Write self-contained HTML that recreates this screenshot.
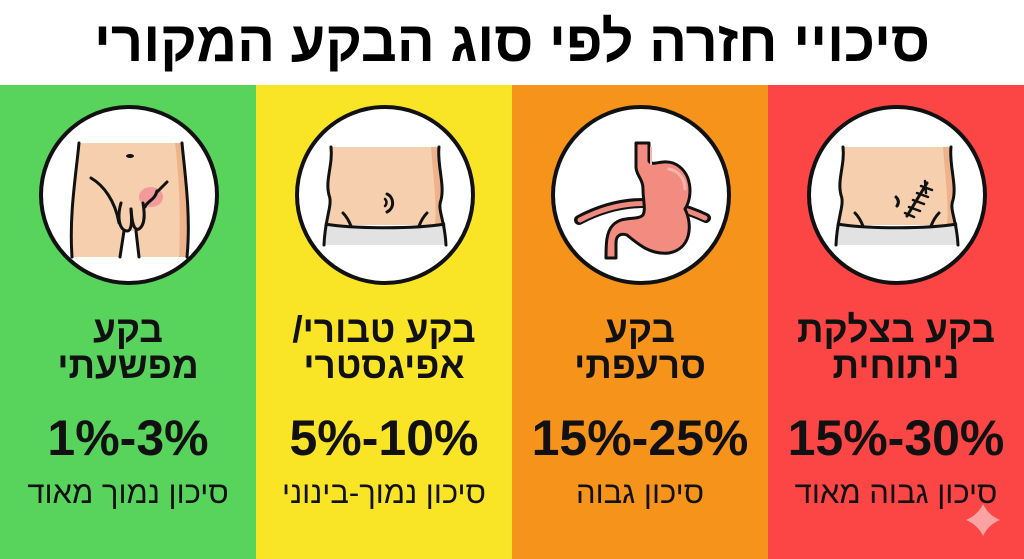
<!DOCTYPE html>
<html><head><meta charset="utf-8">
<style>
html,body{margin:0;padding:0;}
body{width:1024px;height:559px;position:relative;overflow:hidden;background:#fff;font-family:"Liberation Sans","DejaVu Sans",sans-serif;}
.title{position:absolute;left:0;top:14px;width:1024px;text-align:center;font-size:57px;line-height:57px;font-weight:bold;color:#000;direction:rtl;transform:scaleX(0.985);transform-origin:514px 0;}
.col{position:absolute;top:85px;width:256px;height:474px;}
.h{position:absolute;left:0;width:256px;text-align:center;font-weight:bold;font-size:37px;line-height:36px;color:#111;direction:rtl;}
.p{position:absolute;left:0;width:256px;text-align:center;font-weight:bold;font-size:50px;line-height:50px;color:#111;direction:ltr;}
.s{position:absolute;left:0;width:256px;text-align:center;font-size:31px;line-height:31px;color:#111;direction:rtl;}
svg.ic{position:absolute;top:20px;left:39px;}
</style></head><body>
<div class="title">סיכויי חזרה לפי סוג הבקע המקורי</div>

<div class="col" style="left:0;background:#58d35c;">
<svg class="ic" width="180" height="180" viewBox="0 0 180 180">
<circle cx="90" cy="90" r="88" fill="#fff" stroke="#111" stroke-width="4"/>
<path d="M40,38 L143,38 C146,70 152,110 148,152 L100,152 L97,126 L84,126 L80,152 L33,152 C32,110 37,70 40,38 Z" fill="#f6cfae"/>
<path d="M136,38 L143,38 C146,70 152,110 148,152 L140,152 C142,110 140,70 136,38 Z" fill="#edb48c"/>
<path d="M40,38 C37,70 30,110 33,152" fill="none" stroke="#111" stroke-width="3" stroke-linecap="round"/>
<path d="M143,38 C146,70 152,110 148,152" fill="none" stroke="#111" stroke-width="3" stroke-linecap="round"/>
<ellipse cx="91" cy="51" rx="4" ry="2" fill="#111"/>
<ellipse cx="112" cy="92" rx="12" ry="10" fill="#f29a9a"/>
<path d="M52,73 C64,80 76,95 80,118" fill="none" stroke="#111" stroke-width="3" stroke-linecap="round"/>
<path d="M128,77 L118,87" fill="none" stroke="#111" stroke-width="3" stroke-linecap="round"/>
<path d="M118,86 C116,95 108,96 106,102" fill="none" stroke="#111" stroke-width="3" stroke-linecap="round"/>
<path d="M82,98 C78,112 80,125 88,126 C93,126 93,116 92,104" fill="none" stroke="#111" stroke-width="3" stroke-linecap="round"/>
<path d="M92,104 C93,118 95,126 100,124 C106,120 106,110 104,98" fill="none" stroke="#111" stroke-width="3" stroke-linecap="round"/>
<path d="M85,126 L81,152 M97,126 L100,152" fill="none" stroke="#111" stroke-width="3" stroke-linecap="round"/>
</svg>
<div class="h" style="top:227px;">בקע<br>מפשעתי</div>
<div class="p" style="top:328px;">1%-3%</div>
<div class="s" style="top:392px;">סיכון נמוך מאוד</div>
</div>

<div class="col" style="left:256px;background:#fae426;">
<svg class="ic" width="180" height="180" viewBox="0 0 180 180">
<circle cx="90" cy="90" r="88" fill="#fff" stroke="#111" stroke-width="4"/>
<path d="M36,42 L144,42 C142,60 150,80 146,95 C142,105 148,112 150,120 L30,120 C32,110 38,100 34,90 C30,75 38,60 36,42 Z" fill="#f6cfae"/>
<path d="M136,42 L144,42 C142,60 150,80 146,95 C142,105 148,112 150,120 L140,120 C142,100 138,70 136,42 Z" fill="#edb48c"/>
<path d="M29,118 C60,124 120,124 151,118 L151,140 L29,140 Z" fill="#e2e2e2"/>
<path d="M36,42 C38,60 30,75 34,90 C38,100 30,112 29,140" fill="none" stroke="#111" stroke-width="3" stroke-linecap="round"/>
<path d="M144,42 C142,60 150,80 146,95 C142,105 150,115 151,140" fill="none" stroke="#111" stroke-width="3" stroke-linecap="round"/>
<path d="M30,119 C60,124 120,124 150,119" fill="none" stroke="#111" stroke-width="3"/>
<path d="M48,108 C52,112 54,116 56,121 M132,108 C128,112 126,116 124,121" fill="none" stroke="#111" stroke-width="3" stroke-linecap="round"/>
<path d="M92,89 C99,92 100,103 92,107" fill="none" stroke="#111" stroke-width="3" stroke-linecap="round"/>
<path d="M90,94 C92,96 92,99 90,101" fill="none" stroke="#111" stroke-width="2.5" stroke-linecap="round"/>
</svg>
<div class="h" style="top:227px;">בקע טבורי/<br>אפיגסטרי</div>
<div class="p" style="top:328px;">5%-10%</div>
<div class="s" style="top:392px;">סיכון נמוך-בינוני</div>
</div>

<div class="col" style="left:512px;background:#f5931a;">
<svg class="ic" width="180" height="180" viewBox="0 0 180 180">
<circle cx="90" cy="90" r="88" fill="#fff" stroke="#111" stroke-width="4"/>
<path d="M28,115 Q90,82 155,113" fill="none" stroke="#111" stroke-width="10" stroke-linecap="round"/>
<path d="M29,115 Q90,83 154,113" fill="none" stroke="#ef8a80" stroke-width="5" stroke-linecap="round"/>
<path d="M85,38 L85,62 C85,70 92,74 92,84 C92,96 95,104 92,110 C86,116 72,110 62,120 C55,127 55,140 55,153 L65,153 L65,138 C65,130 70,128 76,130 C88,140 100,150 118,148 C140,144 142,120 134,104 C142,92 142,66 122,58 C110,54 102,62 98,56 L98,38 Z" fill="#f28c80" stroke="#111" stroke-width="3" stroke-linejoin="round"/>
<path d="M118,64 C128,66 134,74 134,84" fill="none" stroke="#f8b5ad" stroke-width="3" stroke-linecap="round"/>
<path d="M100,42 L100,60" fill="none" stroke="#f8b5ad" stroke-width="2"/>
</svg>
<div class="h" style="top:227px;">בקע<br>סרעפתי</div>
<div class="p" style="top:328px;">15%-25%</div>
<div class="s" style="top:392px;">סיכון גבוה</div>
</div>

<div class="col" style="left:768px;background:#fc4545;">
<svg class="ic" width="180" height="180" viewBox="0 0 180 180">
<circle cx="90" cy="90" r="88" fill="#fff" stroke="#111" stroke-width="4"/>
<path d="M36,42 L144,42 C142,60 150,80 146,95 C142,105 148,112 150,120 L30,120 C32,110 38,100 34,90 C30,75 38,60 36,42 Z" fill="#f6cfae"/>
<path d="M136,42 L144,42 C142,60 150,80 146,95 C142,105 148,112 150,120 L140,120 C142,100 138,70 136,42 Z" fill="#edb48c"/>
<path d="M29,118 C60,124 120,124 151,118 L151,140 L29,140 Z" fill="#e2e2e2"/>
<path d="M36,42 C38,60 30,75 34,90 C38,100 30,112 29,140" fill="none" stroke="#111" stroke-width="3" stroke-linecap="round"/>
<path d="M144,42 C142,60 150,80 146,95 C142,105 150,115 151,140" fill="none" stroke="#111" stroke-width="3" stroke-linecap="round"/>
<path d="M30,119 C60,124 120,124 150,119" fill="none" stroke="#111" stroke-width="3"/>
<path d="M48,108 C52,112 54,116 56,121 M132,108 C128,112 126,116 124,121" fill="none" stroke="#111" stroke-width="3" stroke-linecap="round"/>
<path d="M89,92 C92,95 92,98 90,101" fill="none" stroke="#111" stroke-width="3" stroke-linecap="round"/>
<path d="M120,78 L100,111" fill="none" stroke="#111" stroke-width="3" stroke-linecap="round"/>
<path d="M114,81 L125,85 M110,88 L121,92 M106,95 L117,99 M102,102 L113,106 M98,108 L107,112 M118,76 L119,88" fill="none" stroke="#111" stroke-width="2.5" stroke-linecap="round"/>
</svg>
<div class="h" style="top:227px;">בקע בצלקת<br>ניתוחית</div>
<div class="p" style="top:328px;">15%-30%</div>
<div class="s" style="top:392px;">סיכון גבוה מאוד</div>
<svg style="position:absolute;left:198px;top:419px;" width="34" height="32" viewBox="0 0 34 32">
<path d="M17,0 Q22,11 34,16 Q22,21 17,32 Q12,21 0,16 Q12,11 17,0 Z" fill="#fba3a3"/>
</svg>
</div>
</body></html>
